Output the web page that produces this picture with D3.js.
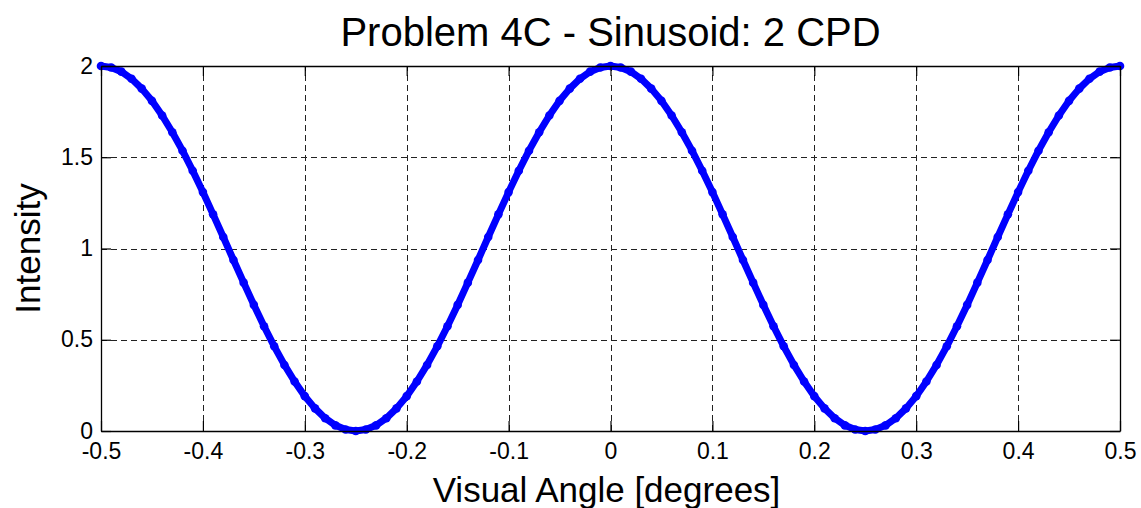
<!DOCTYPE html>
<html>
<head>
<meta charset="utf-8">
<script src="https://cdn.jsdelivr.net/npm/d3@7"></script>
<style>
  html, body { margin: 0; padding: 0; background: #fff; }
  svg { display: block; font-family: "Liberation Sans", Arial, sans-serif; }
</style>
</head>
<body>
<svg id="chart" width="1141" height="508"></svg>
<script>
// Visual angle samples (degrees), every 0.01 from -0.5 to 0.5
const angles = d3.range(101).map(i => +(-0.5 + i * 0.01).toFixed(2));

// Intensity at each sample
const intensity = [
  2.000, 1.992, 1.969, 1.930, 1.876, 1.809, 1.729, 1.637, 1.536, 1.426,
  1.309, 1.187, 1.063, 0.937, 0.813, 0.691, 0.574, 0.464, 0.362, 0.271,
  0.191, 0.124, 0.070, 0.031, 0.008, 0.000, 0.008, 0.031, 0.070, 0.124,
  0.191, 0.271, 0.362, 0.464, 0.574, 0.691, 0.813, 0.937, 1.063, 1.187,
  1.309, 1.426, 1.536, 1.637, 1.729, 1.809, 1.876, 1.930, 1.969, 1.992,
  2.000, 1.992, 1.969, 1.930, 1.876, 1.809, 1.729, 1.637, 1.536, 1.426,
  1.309, 1.187, 1.063, 0.937, 0.813, 0.691, 0.574, 0.464, 0.362, 0.271,
  0.191, 0.124, 0.070, 0.031, 0.008, 0.000, 0.008, 0.031, 0.070, 0.124,
  0.191, 0.271, 0.362, 0.464, 0.574, 0.691, 0.813, 0.937, 1.063, 1.187,
  1.309, 1.426, 1.536, 1.637, 1.729, 1.809, 1.876, 1.930, 1.969, 1.992,
  2.000
];

const xTicks = [-0.5, -0.4, -0.3, -0.2, -0.1, 0, 0.1, 0.2, 0.3, 0.4, 0.5];
const xTickLabels = ["-0.5", "-0.4", "-0.3", "-0.2", "-0.1", "0", "0.1", "0.2", "0.3", "0.4", "0.5"];
const yTicks = [0, 0.5, 1, 1.5, 2];
const yTickLabels = ["0", "0.5", "1", "1.5", "2"];

const titleText = "Problem 4C - Sinusoid: 2 CPD";
const xLabelText = "Visual Angle [degrees]";
const yLabelText = "Intensity";

const svg = d3.select("#chart");
const W = 1141, H = 508;
const plotL = 101, plotR = 1120, plotT = 66, plotB = 431;

svg.append("rect").attr("width", W).attr("height", H).attr("fill", "#fff");

const x = d3.scaleLinear().domain([-0.5, 0.5]).range([plotL, plotR]);
const y = d3.scaleLinear().domain([0, 2]).range([plotB, plotT]);

// Dashed grid lines
const grid = svg.append("g").attr("stroke", "#222").attr("stroke-width", 1)
  .attr("stroke-dasharray", "6,4").attr("shape-rendering", "crispEdges");
grid.selectAll("line.gx").data(xTicks.slice(1, -1)).join("line")
  .attr("x1", d => Math.round(x(d)) + 0.5).attr("x2", d => Math.round(x(d)) + 0.5)
  .attr("y1", plotB).attr("y2", plotT);
grid.selectAll("line.gy").data(yTicks.slice(1, -1)).join("line")
  .attr("x1", plotL).attr("x2", plotR)
  .attr("y1", d => Math.round(y(d)) + 0.5).attr("y2", d => Math.round(y(d)) + 0.5);

// Sinusoid curve with dot markers
const pts = angles.map((a, i) => [a, intensity[i]]);
const line = d3.line().x(d => x(d[0])).y(d => y(d[1]));
svg.append("path").datum(pts).attr("d", line)
  .attr("fill", "none").attr("stroke", "#0000ff").attr("stroke-width", 7)
  .attr("stroke-linejoin", "round");
svg.append("g").selectAll("circle").data(pts).join("circle")
  .attr("cx", d => x(d[0])).attr("cy", d => y(d[1])).attr("r", 4.3)
  .attr("fill", "#0000ff");

// Axes box
const tickLen = 10;
const axisBottom = d3.axisBottom(x).tickValues(xTicks).tickSizeInner(-tickLen).tickSizeOuter(0)
  .tickFormat((d, i) => xTickLabels[i]);
const axisTop = d3.axisTop(x).tickValues(xTicks).tickSizeInner(-tickLen).tickSizeOuter(0).tickFormat("");
const axisLeft = d3.axisLeft(y).tickValues(yTicks).tickSizeInner(-tickLen).tickSizeOuter(0)
  .tickFormat((d, i) => yTickLabels[i]);
const axisRight = d3.axisRight(y).tickValues(yTicks).tickSizeInner(-tickLen).tickSizeOuter(0).tickFormat("");

function style(g) {
  g.select(".domain").attr("stroke", "#000").attr("stroke-width", 1.3);
  g.selectAll(".tick line").attr("stroke", "#000").attr("stroke-width", 1.2);
  g.selectAll(".tick text").attr("fill", "#000").attr("font-size", 23)
    .attr("font-family", "'Liberation Sans', Arial, sans-serif");
}
svg.append("g").attr("transform", `translate(0,${plotB})`).call(axisBottom).call(style)
  .selectAll(".tick text").attr("dy", null).attr("y", 28);
svg.append("g").attr("transform", `translate(0,${plotT})`).call(axisTop).call(style);
svg.append("g").attr("transform", `translate(${plotL},0)`).call(axisLeft).call(style)
  .selectAll(".tick text").attr("dy", null).attr("x", -8).attr("y", 7);
svg.append("g").attr("transform", `translate(${plotR},0)`).call(axisRight).call(style);

// Title and axis labels
svg.append("text").attr("x", (plotL + plotR) / 2).attr("y", 46)
  .attr("text-anchor", "middle").attr("font-size", 40).attr("fill", "#000").text(titleText);
svg.append("text").attr("x", (plotL + plotR) / 2 - 4).attr("y", 502)
  .attr("text-anchor", "middle").attr("font-size", 35).attr("fill", "#000").text(xLabelText);
svg.append("text").attr("transform", `translate(40,${(plotT + plotB) / 2}) rotate(-90)`)
  .attr("text-anchor", "middle").attr("font-size", 35).attr("fill", "#000").text(yLabelText);
</script>
</body>
</html>
